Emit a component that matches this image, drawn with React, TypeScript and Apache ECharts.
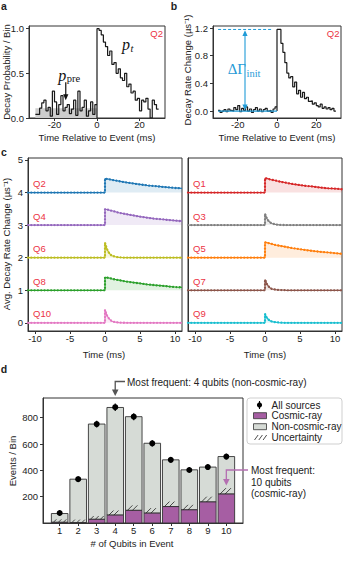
import React, { useEffect, useRef } from 'react';
import * as echarts from 'echarts';

// ---------------- DATA ----------------
// Panel a : decay probability per 1-ms bin (Q2)
const A_X_TICKS = [-20, 0, 20];
const A_Y_TICKS = [0, 0.5, 1.0];
const A_PRE_START = -29;
const A_PRE = [0.04, 0.04, 0.11, 0.17, 0.2, 0.08, 0.12, 0.02, 0.3, 0.18, 0.04, 0.15, 0.25, 0.08, 0.12, 0.15, 0.05, 0.1, 0.2, 0.03, 0.3, 0.08, 0.12, 0.2, 0.02, 0.08, 0.18, 0.04, 0.15];
const A_POST = [1.0, 0.98, 0.93, 0.85, 0.8, 0.7, 0.75, 0.6, 0.62, 0.5, 0.55, 0.45, 0.42, 0.5, 0.35, 0.38, 0.28, 0.3, 0.2, 0.22, 0.08, 0.2, 0.18, 0.22, 0.1, 0.0, 0.2, 0.15, 0.1];
const A_P_PRE = 0.11;

// Panel b : decay rate change (Q2)
const B_Y_TICKS = [0, 0.4, 0.8, 1.2];
const B_PRE_START = -30;
const B_PRE = [0.01, -0.02, 0.0, 0.02, -0.01, 0.03, 0.01, 0.0, 0.05, 0.02, 0.08, -0.01, 0.04, 0.01, 0.06, 0.0, 0.03, -0.02, 0.02, 0.05, 0.0, 0.03, -0.01, 0.02, 0.04, 0.0, 0.01, -0.02, 0.03, 0.06];
const B_POST = [1.18, 1.18, 0.98, 0.85, 0.7, 0.55, 0.48, 0.5, 0.35, 0.42, 0.25, 0.3, 0.2, 0.27, 0.18, 0.2, 0.14, 0.15, 0.1, 0.12, 0.08, 0.06, 0.1, 0.04, 0.06, 0.03, 0.05, 0.02, 0.04, 0.0];
const B_INIT = 1.18;
const B_PRE_MEAN = 0;

// Panel c : averaged decay-rate change, offset per qubit
const C_X_TICKS = [-10, -5, 0, 5, 10];
const C_Y_TICKS = [0, 1, 2, 3, 4, 5];
const C_START = -11;
const C_T = [0, 0.25, 0.5, 0.75, 1, 1.5, 2, 3, 4, 5, 6, 7, 8, 9, 10, 11];
const C_LEFT = ['Q2', 'Q4', 'Q6', 'Q8', 'Q10'];
const C_RIGHT = ['Q1', 'Q3', 'Q5', 'Q7', 'Q9'];
const C_OFFSETS = [4, 3, 2, 1, 0];
const Q1 = [0.44, 0.43, 0.42, 0.40, 0.39, 0.37, 0.34, 0.30, 0.26, 0.23, 0.20, 0.18, 0.15, 0.13, 0.12, 0.10];
const Q2 = [0.43, 0.42, 0.41, 0.40, 0.39, 0.37, 0.35, 0.31, 0.28, 0.25, 0.22, 0.20, 0.18, 0.16, 0.14, 0.13];
const Q3 = [0.35, 0.21, 0.13, 0.08, 0.05, 0.02, 0.01, 0, 0, 0, 0, 0, 0, 0, 0, 0];
const Q4 = [0.49, 0.48, 0.47, 0.45, 0.44, 0.41, 0.38, 0.34, 0.30, 0.26, 0.23, 0.20, 0.18, 0.16, 0.14, 0.12];
const Q5 = [0.47, 0.46, 0.45, 0.43, 0.42, 0.39, 0.37, 0.33, 0.29, 0.26, 0.23, 0.20, 0.18, 0.16, 0.14, 0.12];
const Q6 = [0.46, 0.28, 0.17, 0.10, 0.06, 0.03, 0.01, 0, 0, 0, 0, 0, 0, 0, 0, 0];
const Q7 = [0.33, 0.20, 0.12, 0.07, 0.04, 0.02, 0.01, 0, 0, 0, 0, 0, 0, 0, 0, 0];
const Q8 = [0.40, 0.39, 0.38, 0.37, 0.35, 0.33, 0.31, 0.27, 0.24, 0.21, 0.18, 0.16, 0.14, 0.12, 0.10, 0.09];
const Q9 = [0.27, 0.16, 0.10, 0.06, 0.04, 0.02, 0.01, 0, 0, 0, 0, 0, 0, 0, 0, 0];
const Q10 = [0.40, 0.24, 0.15, 0.09, 0.05, 0.02, 0.01, 0, 0, 0, 0, 0, 0, 0, 0, 0];
const C_CHANGE: Record<string, number[]> = { Q1, Q2, Q3, Q4, Q5, Q6, Q7, Q8, Q9, Q10 };

// Panel d : events per number of qubits
const D_QUBITS = [1, 2, 3, 4, 5, 6, 7, 8, 9, 10];
const D_Y_TICKS = [200, 400, 600, 800];
const D_COSMIC = [5, 3, 28, 60, 96, 75, 125, 100, 160, 220];
const D_NONCOSMIC = [67, 330, 724, 818, 712, 531, 355, 304, 265, 285];
const D_UNC = [15, 10, 25, 35, 38, 38, 38, 38, 40, 45];
const D_ALL = [76, 333, 752, 880, 808, 605, 480, 403, 425, 505];
const D_ALL_ERR = [20, 22, 26, 28, 27, 24, 22, 20, 21, 22];

// ---------------- STYLE ----------------
const FONT = "'Liberation Sans', Arial, Helvetica, sans-serif";
const SERIF = "'Liberation Serif', 'DejaVu Serif', serif";
const AX = '#333';
const TXT = '#222';
const QRED = '#ec3344';
const BLUE = '#1f9bd7';
const PURPLE = '#a65ea3';
const GRAYBAR = '#d6dbd6';
const QCOLOR: Record<string, string> = {
  Q1: '#d62728', Q2: '#1f77b4', Q3: '#7f7f7f', Q4: '#9467bd', Q5: '#ff7f0e',
  Q6: '#bcbd22', Q7: '#8c564b', Q8: '#2ca02c', Q9: '#17becf', Q10: '#e377c2',
};
const GRIDS = [
  { left: 29, top: 26, width: 136, height: 92 },
  { left: 213, top: 26, width: 128, height: 92 },
  { left: 28, top: 158, width: 154, height: 173 },
  { left: 188, top: 158, width: 154, height: 173 },
  { left: 43, top: 398, width: 200, height: 125 },
];
const BAR_HALF = 8.3;

function alpha(hex: string, a: number) {
  const n = parseInt(hex.slice(1), 16);
  return `rgba(${(n >> 16) & 255},${(n >> 8) & 255},${n & 255},${a})`;
}

function stepData(pre: number[], preStart: number, post: number[]) {
  const out: number[][] = pre.map((v, i) => [preStart + i, v]);
  out.push([0, 0]);
  post.forEach((v, i) => out.push([i, v]));
  out.push([post.length, post[post.length - 1]]);
  return out;
}

function xAxis(gi: number, min: number, max: number, ticks: number[], margin: number, fmt?: (v: number) => string) {
  return {
    type: 'value', gridIndex: gi, min, max,
    axisLine: { show: true, onZero: false, lineStyle: { color: AX, width: 1 } },
    axisTick: { show: true, inside: false, length: 3, customValues: ticks, lineStyle: { color: AX } },
    axisLabel: { show: true, customValues: ticks, margin, fontSize: 9.5, color: TXT, fontFamily: FONT, formatter: fmt || ((v: number) => String(v)) },
    splitLine: { show: false },
  };
}
function yAxis(gi: number, min: number, max: number, ticks: number[], fmt?: (v: number) => string, show = true) {
  return {
    type: 'value', gridIndex: gi, min, max,
    axisLine: { show: true, onZero: false, lineStyle: { color: AX, width: 1 } },
    axisTick: { show, inside: false, length: 3, customValues: ticks, lineStyle: { color: AX } },
    axisLabel: { show, customValues: ticks, margin: 5, fontSize: 9.5, color: TXT, fontFamily: FONT, formatter: fmt || ((v: number) => String(v)) },
    splitLine: { show: false },
  };
}

function buildOption() {
  const series: any[] = [];
  // panel a
  series.push({
    type: 'line', xAxisIndex: 0, yAxisIndex: 0, data: [], z: 1, silent: true,
    markArea: { silent: true, itemStyle: { color: '#cdcdcd' }, data: [[{ xAxis: A_PRE_START, yAxis: 0 }, { xAxis: 0, yAxis: A_P_PRE }]] },
  });
  series.push({
    type: 'line', xAxisIndex: 0, yAxisIndex: 0, step: 'end', data: stepData(A_PRE, A_PRE_START, A_POST),
    showSymbol: false, symbol: 'none', lineStyle: { color: '#1a1a1a', width: 1.2 }, z: 3, silent: true,
  });
  // panel b
  series.push({
    type: 'line', xAxisIndex: 1, yAxisIndex: 1, step: 'end', data: stepData(B_PRE, B_PRE_START, B_POST),
    showSymbol: false, symbol: 'none', lineStyle: { color: '#1a1a1a', width: 1.2 }, z: 3, silent: true,
  });
  // panel c
  const addTrace = (name: string, gi: number, off: number) => {
    const ch = C_CHANGE[name];
    const data = [[C_START, off], [0, off], ...C_T.map((t, i) => [t, off + ch[i]])];
    const col = QCOLOR[name];
    series.push({
      type: 'line', xAxisIndex: gi, yAxisIndex: gi, data, showSymbol: false, symbol: 'none', silent: true,
      lineStyle: { color: col, width: 1.2 }, areaStyle: { color: alpha(col, 0.2), origin: off }, z: 2,
    });
    series.push({
      type: 'line', xAxisIndex: gi, yAxisIndex: gi, data, showSymbol: false, symbol: 'none', silent: true,
      lineStyle: { color: col, width: 2.3, type: [0.01, 3.3], cap: 'round' }, z: 3,
    });
  };
  C_LEFT.forEach((n, i) => addTrace(n, 2, C_OFFSETS[i]));
  C_RIGHT.forEach((n, i) => addTrace(n, 3, C_OFFSETS[i]));
  // panel d : stacked bars (cosmic + non-cosmic)
  series.push({
    type: 'custom', xAxisIndex: 4, yAxisIndex: 4, silent: true, z: 2,
    encode: { x: 0, y: [1, 2] },
    data: D_QUBITS.map((q, i) => [q, D_COSMIC[i], D_NONCOSMIC[i]]),
    renderItem: (params: any, api: any) => {
      const x = api.value(0), c = api.value(1), n = api.value(2);
      const p0 = api.coord([x, 0]);
      const p1 = api.coord([x, c]);
      const p2 = api.coord([x, c + n]);
      return {
        type: 'group', children: [
          { type: 'rect', shape: { x: p0[0] - BAR_HALF, y: p2[1], width: 2 * BAR_HALF, height: p1[1] - p2[1] }, style: { fill: GRAYBAR, stroke: '#333', lineWidth: 0.9 } },
          { type: 'rect', shape: { x: p0[0] - BAR_HALF, y: p1[1], width: 2 * BAR_HALF, height: p0[1] - p1[1] }, style: { fill: PURPLE, stroke: '#333', lineWidth: 0.9 } },
        ],
      };
    },
  });
  // uncertainty hatch
  series.push({
    type: 'custom', xAxisIndex: 4, yAxisIndex: 4, silent: true, z: 3,
    encode: { x: 0, y: [1, 2] },
    data: D_QUBITS.map((q, i) => [q, D_COSMIC[i], D_COSMIC[i] + D_UNC[i]]),
    renderItem: (params: any, api: any) => {
      const x = api.value(0);
      const pLo = api.coord([x, api.value(1)]);
      const pHi = api.coord([x, api.value(2)]);
      let y0 = pLo[1], y1 = pHi[1];
      let h = y0 - y1;
      if (h < 3) { y1 = y0 - 3; h = 3; }
      const children: any[] = [];
      for (let k = 2; k + h <= 2 * BAR_HALF - 1; k += 5) {
        children.push({ type: 'line', shape: { x1: pLo[0] - BAR_HALF + k, y1: y0, x2: pLo[0] - BAR_HALF + k + h, y2: y1 }, style: { stroke: '#222', lineWidth: 0.8 } });
      }
      return { type: 'group', children };
    },
  });
  // all sources with error bars
  series.push({
    type: 'custom', xAxisIndex: 4, yAxisIndex: 4, silent: true, z: 4,
    encode: { x: 0, y: 1 },
    data: D_QUBITS.map((q, i) => [q, D_ALL[i], D_ALL_ERR[i]]),
    renderItem: (params: any, api: any) => {
      const x = api.value(0), v = api.value(1), e = api.value(2);
      const p = api.coord([x, v]);
      const lo = api.coord([x, v - e]);
      const hi = api.coord([x, v + e]);
      return {
        type: 'group', children: [
          { type: 'line', shape: { x1: p[0], y1: lo[1], x2: p[0], y2: hi[1] }, style: { stroke: '#000', lineWidth: 1.2 } },
          { type: 'circle', shape: { cx: p[0], cy: p[1], r: 3 }, style: { fill: '#000' } },
        ],
      };
    },
  });

  const f1 = (v: number) => v.toFixed(1);
  return {
    animation: false,
    textStyle: { fontFamily: FONT },
    grid: GRIDS.map((g) => ({ ...g, show: true, borderColor: AX, borderWidth: 1, backgroundColor: 'transparent', containLabel: false })),
    xAxis: [
      xAxis(0, -32, 32, A_X_TICKS, 1.5),
      xAxis(1, -32.6, 32.6, A_X_TICKS, 1.5),
      xAxis(2, -11, 11, C_X_TICKS, 2),
      xAxis(3, -11, 11, C_X_TICKS, 2),
      xAxis(4, 0.1, 10.9, D_QUBITS, 2),
    ],
    yAxis: [
      yAxis(0, 0, 1.03, A_Y_TICKS, f1),
      yAxis(1, -0.1, 1.23, B_Y_TICKS, f1),
      yAxis(2, -0.25, 5.06, C_Y_TICKS),
      yAxis(3, -0.25, 5.06, C_Y_TICKS, undefined, false),
      yAxis(4, 0, 950, D_Y_TICKS),
    ],
    series,
  };
}

function buildGraphic(chart: any) {
  const P = (gi: number, pt: number[]) => chart.convertToPixel({ gridIndex: gi }, pt) as number[];
  const g: any[] = [];
  const T = (x: number, y: number, text: string, o: any = {}) => {
    const { align = 'center', va = 'middle', rotation = 0, ...rest } = o;
    g.push({
      type: 'text', x, y, rotation, z: 60, silent: true,
      style: { text, fontFamily: FONT, fontSize: 9.5, fill: TXT, align, verticalAlign: va, textAlign: align, textVerticalAlign: va, ...rest },
    });
  };
  const L = (x1: number, y1: number, x2: number, y2: number, stroke: string, lineWidth = 1, lineDash?: number[]) =>
    g.push({ type: 'line', z: 55, silent: true, shape: { x1, y1, x2, y2 }, style: { stroke, lineWidth, lineDash } });
  const TRI = (pts: number[][], fill: string) => g.push({ type: 'polygon', z: 56, silent: true, shape: { points: pts }, style: { fill } });
  const R = (x: number, y: number, w: number, h: number, style: any, r = 0) =>
    g.push({ type: 'rect', z: 54, silent: true, shape: { x, y, width: w, height: h, r }, style });
  const ROT = Math.PI / 2;
  const BOLD = { fontWeight: 'bold', fontSize: 10.5 };

  // panel letters
  T(4, 6, 'a', BOLD);
  T(174, 6, 'b', BOLD);
  T(4, 152, 'c', BOLD);
  T(4, 368.5, 'd', BOLD);

  // axis titles
  T(6.5, 72, 'Decay Probability / Bin', { rotation: ROT });
  T(187.5, 70, 'Decay Rate Change (µs⁻¹)', { rotation: ROT });
  T(6.5, 244, 'Avg. Decay Rate Change (µs⁻¹)', { rotation: ROT });
  T(12, 461, 'Events / Bin', { rotation: ROT });
  T(97, 137.5, 'Time Relative to Event (ms)');
  T(277, 137.5, 'Time Relative to Event (ms)');
  T(104, 354, 'Time (ms)');
  T(265, 354, 'Time (ms)');
  T(132, 543, '# of Qubits in Event');

  // panel a annotations
  const ga = GRIDS[0], gb = GRIDS[1];
  T(ga.left + ga.width - 2, 33, 'Q2', { align: 'right', fill: QRED });
  const arrTop = P(0, [-14.7, 0.40]);
  const arrTip = P(0, [-14.7, 0.20]);
  L(arrTop[0], arrTop[1], arrTip[0], arrTip[1] - 4, '#111', 1.2);
  TRI([[arrTip[0] - 2.6, arrTip[1] - 6], [arrTip[0] + 2.6, arrTip[1] - 6], [arrTip[0], arrTip[1]]], '#111');
  const pp = P(0, [-14.7, 0.47]);
  T(pp[0] + 0.5, pp[1] - 1, 'p', { align: 'right', fontFamily: SERIF, fontStyle: 'italic', fontSize: 16, fill: '#111' });
  T(pp[0] + 1, pp[1] + 2.5, 'pre', { align: 'left', fontFamily: SERIF, fontSize: 10.5, fill: '#111' });
  const pt = P(0, [15.5, 0.82]);
  T(pt[0], pt[1], 'p', { align: 'right', fontFamily: SERIF, fontStyle: 'italic', fontSize: 16, fill: '#111' });
  T(pt[0] + 0.5, pt[1] + 3.5, 't', { align: 'left', fontFamily: SERIF, fontStyle: 'italic', fontSize: 10.5, fill: '#111' });

  // panel b annotations
  T(gb.left + gb.width - 1.5, 33, 'Q2', { align: 'right', fill: QRED });
  const d0 = P(1, [-30, B_INIT]), d1 = P(1, [-2.5, B_INIT]);
  L(d0[0], d0[1], d1[0], d1[1], BLUE, 1, [3, 2]);
  const m0 = P(1, [-30, B_PRE_MEAN]), m1 = P(1, [0, B_PRE_MEAN]);
  L(m0[0], m0[1], m1[0], m1[1], BLUE, 1.2);
  const aLo = P(1, [-16.3, B_PRE_MEAN]), aHi = P(1, [-16.3, B_INIT]);
  L(aLo[0], aLo[1] - 4, aHi[0], aHi[1] + 4, BLUE, 1.1);
  TRI([[aHi[0] - 2.6, aHi[1] + 6.5], [aHi[0] + 2.6, aHi[1] + 6.5], [aHi[0], aHi[1] + 0.8]], BLUE);
  TRI([[aLo[0] - 2.6, aLo[1] - 6.5], [aLo[0] + 2.6, aLo[1] - 6.5], [aLo[0], aLo[1] - 0.8]], BLUE);
  const dg = P(1, [-16.3, 0.59]);
  R(dg[0] - 17, dg[1] - 9, 36, 18, { fill: '#fff' });
  T(dg[0] + 1, dg[1] - 1.5, 'ΔΓ', { align: 'right', fontFamily: SERIF, fontSize: 15, fill: BLUE });
  T(dg[0] + 1.5, dg[1] + 3, 'init', { align: 'left', fontFamily: SERIF, fontSize: 10.5, fill: BLUE });

  // panel c labels
  C_LEFT.forEach((n, i) => {
    const p = P(2, [C_START, C_OFFSETS[i]]);
    T(p[0] + 5, p[1] - 9, n, { align: 'left', fill: QRED });
  });
  C_RIGHT.forEach((n, i) => {
    const p = P(3, [C_START, C_OFFSETS[i]]);
    T(p[0] + 5, p[1] - 9, n, { align: 'left', fill: QRED });
  });

  // panel d annotations
  const gd = GRIDS[4];
  const b4 = P(4, [4, 950]);
  T(127, 382, 'Most frequent: 4 qubits (non-cosmic-ray)', { align: 'left', fontSize: 10 });
  g.push({ type: 'polyline', z: 55, silent: true, shape: { points: [[125, 381.5], [b4[0], 381.5], [b4[0], 391]] }, style: { stroke: '#555', lineWidth: 1.3, fill: 'none' } });
  TRI([[b4[0] - 3.3, 389.5], [b4[0] + 3.3, 389.5], [b4[0], 396]], '#555');
  const b10 = P(4, [10, 285]);
  g.push({ type: 'polyline', z: 55, silent: true, shape: { points: [[248, 470], [b10[0], 470], [b10[0], b10[1] - 5]] }, style: { stroke: '#b46fb1', lineWidth: 1.3, fill: 'none' } });
  TRI([[b10[0] - 3.3, b10[1] - 6.5], [b10[0] + 3.3, b10[1] - 6.5], [b10[0], b10[1]]], '#b46fb1');
  T(251, 470.7, 'Most frequent:', { align: 'left', fontSize: 10 });
  T(251, 482, '10 qubits', { align: 'left', fontSize: 10 });
  T(251, 493.3, '(cosmic-ray)', { align: 'left', fontSize: 10 });

  // legend
  const lx = gd.left + gd.width + 4;
  R(lx, 398, 95, 46, { fill: '#fff', stroke: '#cfcfcf', lineWidth: 1 }, 3);
  L(259.5, 401, 259.5, 409, '#000', 1.1);
  g.push({ type: 'circle', z: 56, silent: true, shape: { cx: 259.5, cy: 405, r: 2.6 }, style: { fill: '#000' } });
  T(271.5, 405, 'All sources', { align: 'left', fontSize: 10 });
  R(253.5, 412.7, 13, 6, { fill: PURPLE, stroke: '#333', lineWidth: 0.8 });
  T(271.5, 415.8, 'Cosmic-ray', { align: 'left', fontSize: 10 });
  R(253.5, 423.7, 13, 6, { fill: GRAYBAR, stroke: '#333', lineWidth: 0.8 });
  T(271.5, 426.8, 'Non-cosmic-ray', { align: 'left', fontSize: 10 });
  [254.5, 258.8, 263.1].forEach((x) => L(x, 440, x + 3.6, 435, '#222', 0.8));
  T(271.5, 437.6, 'Uncertainty', { align: 'left', fontSize: 10 });

  return g;
}

export default function App() {
  const ref = useRef<HTMLDivElement>(null);
  useEffect(() => {
    document.body.style.margin = '0';
    const el = ref.current as HTMLDivElement;
    const chart = echarts.init(el, null, { renderer: 'svg', width: 345, height: 563 });
    chart.setOption(buildOption() as any);
    chart.setOption({ graphic: { elements: buildGraphic(chart) } } as any);
    return () => chart.dispose();
  }, []);
  return <div ref={ref} style={{ width: 345, height: 563 }} />;
}
